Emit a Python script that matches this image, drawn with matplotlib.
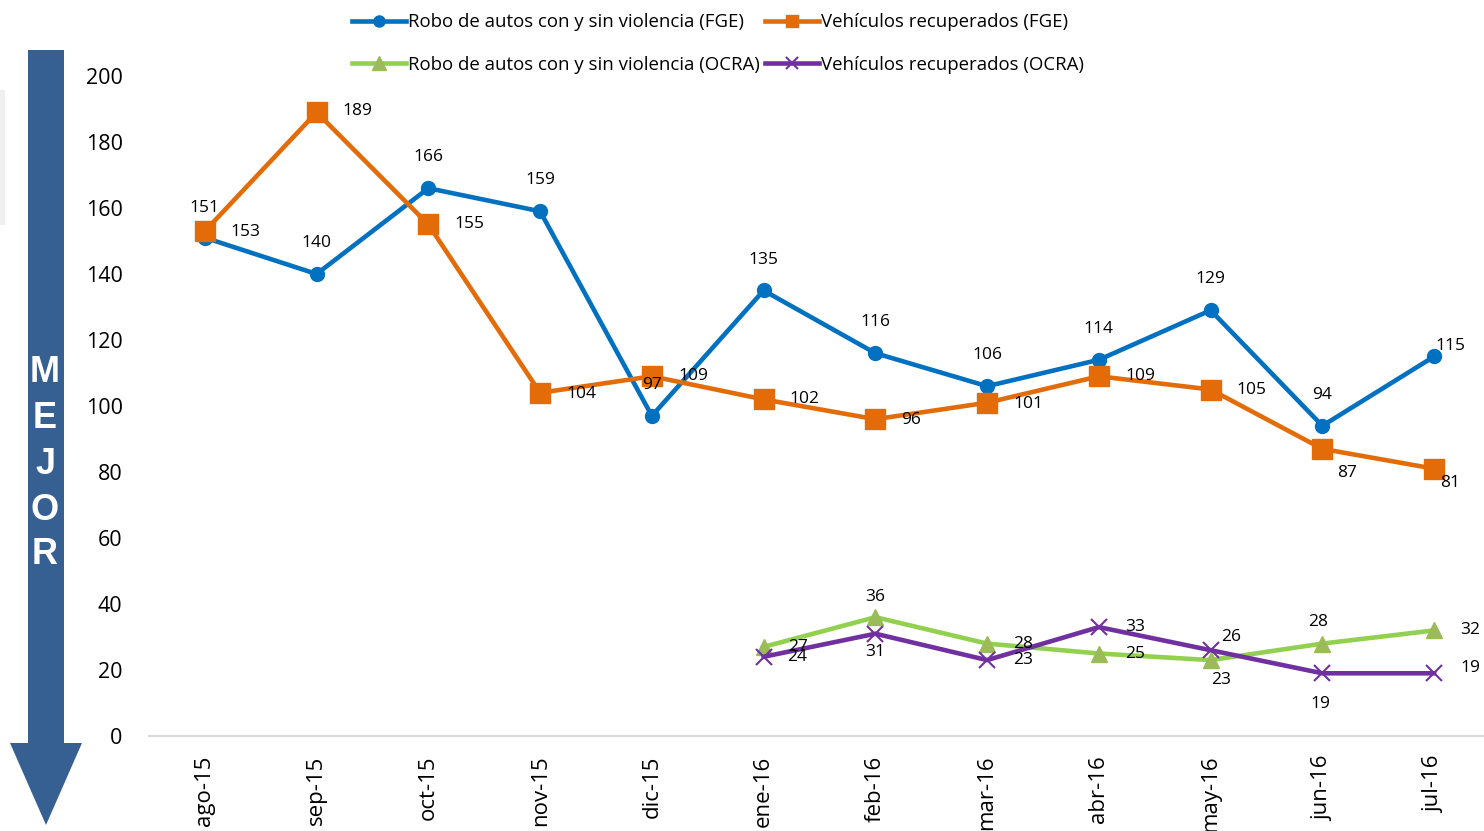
import matplotlib
matplotlib.use("Agg")
import matplotlib.pyplot as plt
from matplotlib.patches import Polygon, Rectangle
from matplotlib.lines import Line2D

months = ["ago-15", "sep-15", "oct-15", "nov-15", "dic-15", "ene-16",
          "feb-16", "mar-16", "abr-16", "may-16", "jun-16", "jul-16"]
robo_fge = [151, 140, 166, 159, 97, 135, 116, 106, 114, 129, 94, 115]
recup_fge = [153, 189, 155, 104, 109, 102, 96, 101, 109, 105, 87, 81]
ocra_idx = [5, 6, 7, 8, 9, 10, 11]
robo_ocra = [27, 36, 28, 25, 23, 28, 32]
recup_ocra = [24, 31, 23, 33, 26, 19, 19]
yticks = [0, 20, 40, 60, 80, 100, 120, 140, 160, 180, 200]

# label offsets in pixels (dx, dy)
off_robo_fge = [(0, 30), (0, 31), (0, 31), (0, 31), (0, 31), (0, 31),
                (0, 31), (0, 31), (0, 31), (0, 31), (0, 31), (16, 10)]
off_recup_fge = [(41, -1), (41, 1), (41, 0), (41, -1), (41, 0), (41, 0),
                 (36, -1), (41, -1), (41, 0), (41, -1), (25, -24), (16, -14)]
off_robo_ocra = [(34, 0), (0, 20), (36, 0), (36, 0), (10, -20), (-4, 22), (36, 0)]
off_recup_ocra = [(34, 0), (0, -18), (36, 0), (36, 0), (20, 13), (-2, -31), (36, 5)]

FONT = "Open Sans"
plt.rcParams["font.family"] = [FONT, "DejaVu Sans"]

W, H = 1484, 831
fig = plt.figure(figsize=(W / 100, H / 100), dpi=100)
ax = fig.add_axes([149 / W, 1 - 736 / H, (1490 - 149) / W, (736 - 76) / H])

blue = "#0070C0"
orange = "#E36C09"
green = "#92D050"
green_m = "#9BBB59"
purple = "#7030A0"

x = list(range(len(months)))
ax.plot(x, robo_fge, color=blue, lw=3.3, marker="o", ms=10, zorder=3)
ax.plot(x, recup_fge, color=orange, lw=3.3, marker="s", ms=14, zorder=3)
ax.plot(ocra_idx, robo_ocra, color=green, lw=3.3, marker="^", ms=12,
        markerfacecolor=green_m, markeredgecolor=green_m, zorder=3)
ax.plot(ocra_idx, recup_ocra, color=purple, lw=3.3, marker="x", ms=12, mew=1.5, zorder=4)

def labels(xs, ys, offs):
    for xi, yi, (dx, dy) in zip(xs, ys, offs):
        ax.annotate(str(yi), (xi, yi), xytext=(dx, dy), textcoords="offset pixels",
                    ha="center", va="center", fontsize=12.5, color="#000000", zorder=6)

labels(x, robo_fge, off_robo_fge)
labels(x, recup_fge, off_recup_fge)
labels(ocra_idx, robo_ocra, off_robo_ocra)
labels(ocra_idx, recup_ocra, off_recup_ocra)

ax.set_xlim(-0.5, len(months) - 0.5)
ax.set_ylim(0, 200)
ax.set_yticks(yticks)
ax.set_xticks(x)
ax.set_xticklabels(months, rotation=90, fontsize=16)
ax.tick_params(axis="y", length=0, pad=19, labelsize=15.5)
ax.tick_params(axis="x", length=0, pad=14)
for s in ["top", "right", "left"]:
    ax.spines[s].set_visible(False)
ax.spines["bottom"].set_color("#D9D9D9")
ax.spines["bottom"].set_linewidth(1.5)

# legend
handles = [
    Line2D([], [], color=blue, lw=3.3, marker="o", ms=8),
    Line2D([], [], color=green, lw=3.3, marker="^", ms=10, markerfacecolor=green_m, markeredgecolor=green_m),
    Line2D([], [], color=orange, lw=3.3, marker="s", ms=9),
    Line2D([], [], color=purple, lw=3.3, marker="x", ms=9, mew=1.5),
]
names = ["Robo de autos con y sin violencia (FGE)",
         "Robo de autos con y sin violencia (OCRA)",
         "Vehículos recuperados (FGE)",
         "Vehículos recuperados (OCRA)"]
fig.legend(handles, names, ncol=2, frameon=False, fontsize=13.4,
           loc="upper left", bbox_to_anchor=(343 / W, 1 - 4 / H),
           handlelength=2.9, handletextpad=0.1, columnspacing=0.3,
           labelspacing=1.3, borderpad=0)

# arrow "MEJOR"
tr = fig.transFigure
def P(px, py):
    return (px / W, 1 - py / H)
arrow_pts = [P(28, 50), P(64, 50), P(64, 743), P(82, 743), P(46, 825),
             P(10, 743), P(28, 743)]
fig.patches.append(Polygon(arrow_pts, closed=True, transform=tr,
                           facecolor="#376092", edgecolor="none"))
fig.patches.append(Rectangle(P(0, 225), 5 / W, 135 / H, transform=tr,
                             facecolor="#EFEFEF", edgecolor="none"))
for letter, py in zip("MEJOR", [373, 419, 464, 510, 554]):
    fig.text(45 / W, 1 - py / H, letter, color="white", fontsize=26,
             fontweight="bold", ha="center", va="center",
             family=["Liberation Sans", "DejaVu Sans"])

fig.savefig("out.png", dpi=100)
